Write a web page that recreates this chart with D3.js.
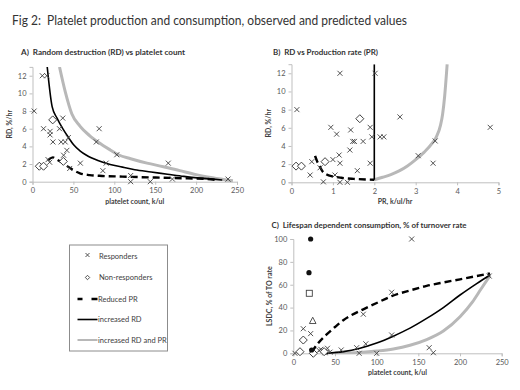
<!DOCTYPE html>
<html>
<head>
<meta charset="utf-8">
<script src="https://cdn.jsdelivr.net/npm/d3@7"></script>
<style>
  body { margin: 0; background: #fff; }
  svg { font-family: Lato, "Open Sans", sans-serif; }
  text { white-space: pre; }
</style>
</head>
<body>
<svg id="fig" width="520" height="390"></svg>
<script>
// Panel A: RD (%/hr) vs platelet count (k/ul)
const aResponders = [[2,8],[12,12],[17.5,12],[13.5,6],[21.5,5.7],[21.5,5.3],[25,4.5],[37,7.2],[33,6],[35,4.5],[40,4.5],
  [43.8,5],[42,3.55],[38,3],[45.5,1.5],[58.5,2.1],[81.5,6],[78,4.5],[90,2.1],[86,1.25],[103,3.05],[120,0.7],[120,0],
  [144,0],[166,2.1],[171,0.3],[239,0.3],[19,2.5],[21,2.2]];
const aNonResponders = [[8.3,1.75],[13.5,1.75],[24.7,7],[37.7,2.3]];
const aReducedPR = [[19,2.45],[25,2.75],[30,2.5],[38,2.05],[45,1.6],[50,1.3],[58,0.95],[70,0.75],[85,0.65],[110,0.58],
  [130,0.52],[160,0.45],[190,0.38],[210,0.33],[225,0.2]];
const aIncRD = [[18,13],[24,8.5],[30,7.2],[37,6.0],[44,5.0],[50,4.2],[58,3.5],[66,3.0],[80,2.4],[95,1.95],[110,1.65],
  [125,1.35],[145,1.1],[165,0.85],[185,0.6],[205,0.4],[232,0.2]];
const aIncRDPR = [[33,13],[40,10.2],[48,7.7],[58,6.3],[70,5.2],[80,4.5],[95,3.6],[105,3.05],[120,2.6],[140,2.1],
  [160,1.7],[180,1.25],[200,0.8],[220,0.45],[245,0.1]];

// Panel B: RD (%/hr) vs PR (k/ul/hr)
const bResponders = [[0.13,8],[1.17,12],[2.02,12],[0.95,6.05],[1.09,5.3],[1.43,5.76],[1.48,4.5],[1.52,4.5],[1.73,4.5],
  [1.41,3.55],[1.15,3.0],[1.0,2.5],[1.17,2.1],[0.49,2.27],[0.45,0.8],[0.77,0.05],[1.17,0],[1.35,0],[1.59,1.28],
  [1.9,6.05],[1.94,5.0],[1.9,2.1],[2.14,5.0],[2.23,5.0],[2.62,7.2],[3.06,2.93],[3.47,4.55],[3.42,2.1],[4.8,6.05],
  [0.69,1.6],[1.05,0.8]];
const bNonResponders = [[0.11,1.78],[0.24,1.78],[0.81,2.27],[1.65,7.0]];
const bReducedPR = [[0.57,2.9],[0.62,2.3],[0.7,1.6],[0.75,1.2],[0.85,0.85],[1.0,0.65],[1.2,0.5],[1.5,0.38],[2.0,0.28]];
const bIncRD = [[2,0.28],[2,13]];
const bIncRDPR = [[2.0,0.28],[2.2,0.55],[2.4,0.85],[2.6,1.25],[2.8,1.8],[3.0,2.5],[3.2,3.3],[3.4,4.3],[3.5,5.0],
  [3.6,6.3],[3.65,7.5],[3.7,9.5],[3.76,13]];

// Panel C: LSDC (% of TO rate) vs platelet count (k/ul)
const cResponders = [[142,100],[12,21.5],[20.8,17.2],[118,53.4],[84,34.2],[118,16],[87,8.3],[76,4.9],[57.5,2.9],
  [163,4.9],[168,0.5],[79,0],[100,0],[235,67.6],[2,0],[33,3.5],[41,4.4],[44,1],[31,2.5],[38,0.5]];
const cNonResponders = [[12,11.6],[8,1.4],[24,0],[37,1.4]];
const cFilledDots = [[20.8,100],[18.8,70.5],[22,2.9]];
const cSquares = [[19.2,52.5]];
const cTriangles = [[23.3,28.5]];
const cReducedPR = [[22,1],[30,9],[40,16.5],[50,23],[60,29],[70,33.5],[84,38.5],[100,44],[118,50],[140,55],
  [160,59],[180,62],[200,64.7],[236,70]];
const cIncRD = [[40,0],[60,1.5],[80,4.5],[100,9],[120,15],[140,22],[160,30.5],[180,40],[200,51],[220,61],[236,68.5]];
const cIncRDPR = [[50,0],[80,0.8],[100,2],[120,3.8],[140,7],[160,12],[180,19.5],[200,32],[215,45],[225,56],[236,68]];

const legendLabels = ["Responders", "Non-responders", "Reduced PR", "increased RD", "increased RD and PR"];

const svg = d3.select("#fig");
const axisGray = "#bfbfbf", textGray = "#595959", markGray = "#404040", lineGray = "#b8b8b8";

svg.append("text")
  .attr("x", 12).attr("y", 25)
  .attr("font-size", 13).attr("fill", "#333")
  .attr("textLength", 395).attr("lengthAdjust", "spacingAndGlyphs")
  .text("Fig 2:  Platelet production and consumption, observed and predicted values");

function drawPanel(p) {
  const x = d3.scaleLinear().domain(p.xDomain).range(p.xRange);
  const y = d3.scaleLinear().domain(p.yDomain).range(p.yRange);
  const g = svg.append("g");

  g.append("text").attr("x", p.titleX).attr("y", p.titleY)
    .attr("font-size", 8).attr("font-weight", "bold").attr("fill", "#333")
    .attr("textLength", p.titleW).attr("lengthAdjust", "spacingAndGlyphs")
    .text(p.title);

  // axes
  const xAxis = g.append("g").attr("transform", `translate(0,${p.yRange[0]})`)
    .call(d3.axisBottom(x).tickValues(p.xTicks).tickFormat(d3.format("d")).tickSize(3).tickPadding(3));
  const yAxis = g.append("g").attr("transform", `translate(${p.xRange[0]},0)`)
    .call(d3.axisLeft(y).tickValues(p.yTicks).tickFormat(d3.format("d")).tickSize(3).tickPadding(3));
  [xAxis, yAxis].forEach(a => {
    a.select(".domain").attr("stroke", axisGray);
    a.selectAll(".tick line").attr("stroke", axisGray);
    a.selectAll(".tick text").attr("fill", textGray).attr("font-size", 7.5).attr("font-family", "Lato, sans-serif");
  });

  g.append("text").attr("x", (p.xRange[0] + p.xRange[1]) / 2).attr("y", p.yRange[0] + 22)
    .attr("text-anchor", "middle").attr("font-size", 7).attr("font-weight", "bold").attr("fill", "#404040")
    .text(p.xLabel);
  g.append("text")
    .attr("transform", `translate(${p.xRange[0] - 21},${(p.yRange[0] + p.yRange[1]) / 2}) rotate(-90)`)
    .attr("text-anchor", "middle").attr("font-size", 7).attr("font-weight", "bold").attr("fill", "#404040")
    .text(p.yLabel);

  const clipId = "clip" + p.id;
  svg.append("clipPath").attr("id", clipId).append("rect")
    .attr("x", p.xRange[0]).attr("y", p.yRange[1])
    .attr("width", p.xRange[1] - p.xRange[0] + 6).attr("height", p.yRange[0] - p.yRange[1] + 1);
  const plot = g.append("g").attr("clip-path", `url(#${clipId})`);

  const line = d3.line().x(d => x(d[0])).y(d => y(d[1])).curve(d3.curveMonotoneX);
  const straight = d3.line().x(d => x(d[0])).y(d => y(d[1]));

  plot.append("path").datum(p.incRDPR).attr("d", line)
    .attr("fill", "none").attr("stroke", lineGray).attr("stroke-width", 3);
  plot.append("path").datum(p.incRD).attr("d", p.incRD.length === 2 ? straight : line)
    .attr("fill", "none").attr("stroke", "#000").attr("stroke-width", 1.6);
  plot.append("path").datum(p.reducedPR).attr("d", line)
    .attr("fill", "none").attr("stroke", "#000").attr("stroke-width", 2.4).attr("stroke-dasharray", "7,4");

  const marks = g.append("g");
  marks.selectAll(".resp").data(p.responders).join("path")
    .attr("transform", d => `translate(${x(d[0])},${y(d[1])})`)
    .attr("d", "M-2.5,-2.5L2.5,2.5M-2.5,2.5L2.5,-2.5")
    .attr("stroke", markGray).attr("stroke-width", 0.9).attr("fill", "none");
  marks.selectAll(".nonresp").data(p.nonResponders).join("path")
    .attr("transform", d => `translate(${x(d[0])},${y(d[1])})`)
    .attr("d", "M0,-4L4,0L0,4L-4,0Z")
    .attr("stroke", markGray).attr("stroke-width", 1).attr("fill", "#fff");

  if (p.filledDots) {
    marks.selectAll(".dot").data(p.filledDots).join("circle")
      .attr("cx", d => x(d[0])).attr("cy", d => y(d[1])).attr("r", 2.6).attr("fill", "#111");
    marks.selectAll(".sq").data(p.squares).join("rect")
      .attr("x", d => x(d[0]) - 3).attr("y", d => y(d[1]) - 3).attr("width", 6).attr("height", 6)
      .attr("fill", "#fff").attr("stroke", markGray).attr("stroke-width", 0.9);
    marks.selectAll(".tri").data(p.triangles).join("path")
      .attr("transform", d => `translate(${x(d[0])},${y(d[1])})`)
      .attr("d", "M0,-3.5L3.3,2.8L-3.3,2.8Z")
      .attr("fill", "#fff").attr("stroke", markGray).attr("stroke-width", 0.9);
  }
}

drawPanel({
  id: "A", title: "A)  Random destruction (RD) vs platelet count", titleX: 21, titleY: 55, titleW: 164,
  xDomain: [0, 250], xRange: [32.5, 237], yDomain: [0, 13], yRange: [181.7, 66.9],
  xTicks: d3.range(0, 251, 50), yTicks: d3.range(0, 13, 2),
  xLabel: "platelet count, k/ul", yLabel: "RD, %/hr",
  responders: aResponders, nonResponders: aNonResponders,
  reducedPR: aReducedPR, incRD: aIncRD, incRDPR: aIncRDPR
});

drawPanel({
  id: "B", title: "B)  RD vs Production rate (PR)", titleX: 273, titleY: 55, titleW: 105,
  xDomain: [0, 5], xRange: [291.5, 498.5], yDomain: [0, 13], yRange: [182.3, 64.2],
  xTicks: d3.range(0, 6, 1), yTicks: d3.range(0, 13, 2),
  xLabel: "PR, k/ul/hr", yLabel: "RD, %/hr",
  responders: bResponders, nonResponders: bNonResponders,
  reducedPR: bReducedPR, incRD: bIncRD, incRDPR: bIncRDPR
});

drawPanel({
  id: "C", title: "C)  Lifespan dependent consumption, % of turnover rate", titleX: 271.5, titleY: 228, titleW: 195,
  xDomain: [0, 250], xRange: [293.3, 501.7], yDomain: [0, 100], yRange: [353.3, 239],
  xTicks: d3.range(0, 251, 50), yTicks: d3.range(0, 101, 20),
  xLabel: "platelet count, k/ul", yLabel: "LSDC, % of TO rate",
  responders: cResponders, nonResponders: cNonResponders,
  reducedPR: cReducedPR, incRD: cIncRD, incRDPR: cIncRDPR,
  filledDots: cFilledDots, squares: cSquares, triangles: cTriangles
});

// legend
const leg = svg.append("g");
leg.append("rect").attr("x", 69.5).attr("y", 245).attr("width", 98).attr("height", 106)
  .attr("fill", "#fff").attr("stroke", "#8c8c8c").attr("stroke-width", 1);
const rowY = [256, 277.5, 299, 319.5, 340];
leg.selectAll(".lt").data(legendLabels).join("text")
  .attr("x", (d, i) => i < 2 ? 99 : 98).attr("y", (d, i) => rowY[i] + 2.5)
  .attr("font-size", 7.5).attr("fill", "#404040").text(d => d);
leg.append("path").attr("transform", `translate(87.5,${rowY[0] - 1})`)
  .attr("d", "M-2,-2L2,2M-2,2L2,-2").attr("stroke", markGray).attr("stroke-width", 0.9);
leg.append("path").attr("transform", `translate(87.5,${rowY[1]})`)
  .attr("d", "M0,-2.2L2.2,0L0,2.2L-2.2,0Z").attr("stroke", markGray).attr("stroke-width", 0.9).attr("fill", "#fff");
leg.append("line").attr("x1", 77.5).attr("x2", 97.5).attr("y1", rowY[2]).attr("y2", rowY[2])
  .attr("stroke", "#000").attr("stroke-width", 2.4).attr("stroke-dasharray", "5,9,6");
leg.append("line").attr("x1", 77.5).attr("x2", 97.5).attr("y1", rowY[3]).attr("y2", rowY[3])
  .attr("stroke", "#000").attr("stroke-width", 1.6);
leg.append("line").attr("x1", 77.5).attr("x2", 97.5).attr("y1", rowY[4]).attr("y2", rowY[4])
  .attr("stroke", lineGray).attr("stroke-width", 2);
</script>
</body>
</html>
